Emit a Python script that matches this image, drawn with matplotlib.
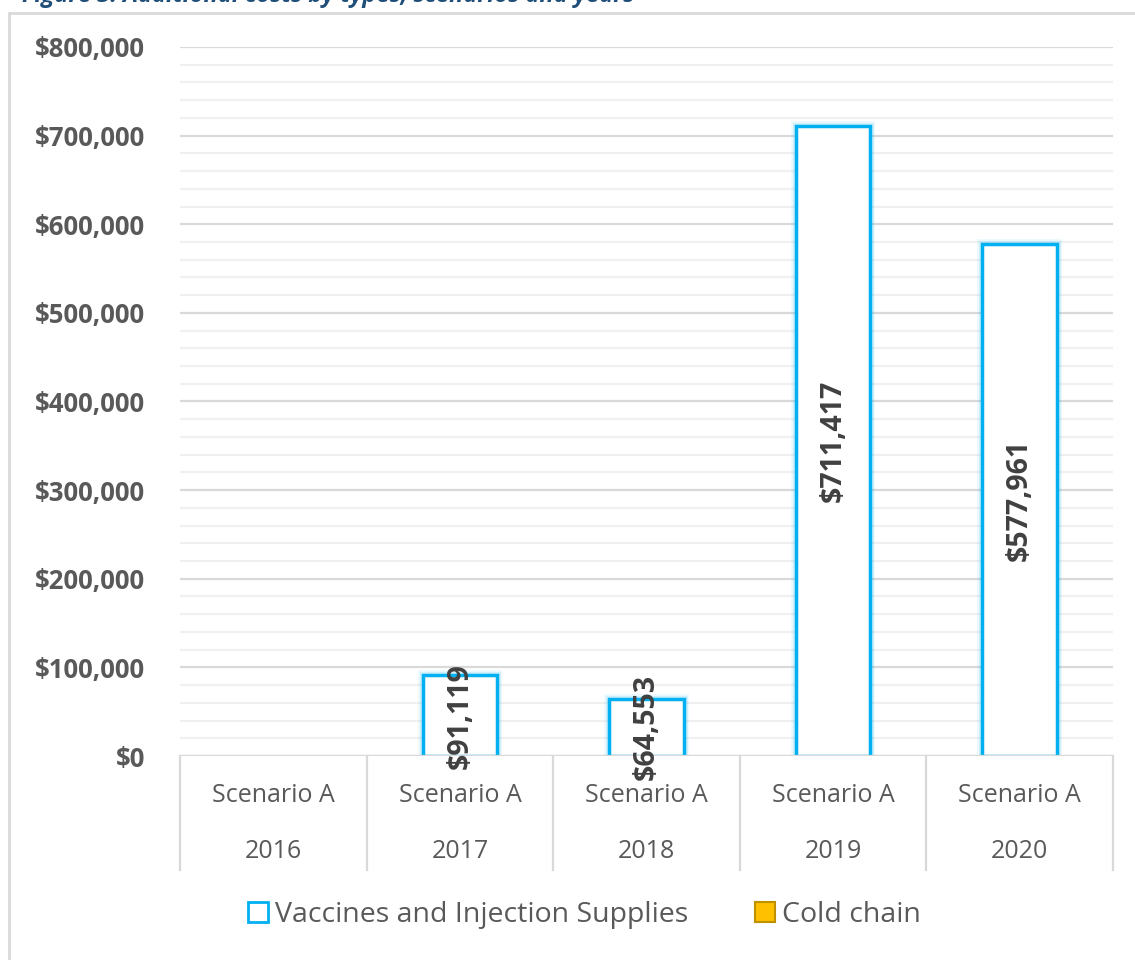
import matplotlib.pyplot as plt
from matplotlib.patches import Rectangle
from matplotlib.lines import Line2D
from matplotlib.ticker import MultipleLocator, FuncFormatter

# data
years = ["2016", "2017", "2018", "2019", "2020"]
scenarios = ["Scenario A"] * 5
vaccines = [0, 91119, 64553, 711417, 577961]
cold_chain = [0, 0, 0, 0, 0]

CYAN = "#00B0F0"
GOLD = "#FFC000"
TXT = "#595959"

plt.rcParams['font.family'] = ['Open Sans', 'DejaVu Sans']

fig = plt.figure(figsize=(11.35, 9.6), dpi=100)
W, H = 1135, 960

# outer chart frame (only left/top edges visible in the crop)
fig.patches.append(Rectangle((9 / W, -0.1), 1.2, 1 - 13 / H + 0.1,
                             transform=fig.transFigure, fill=False,
                             edgecolor="#D9D9D9", lw=2))
# caption, cut off at the top of the image like in the source
fig.text(22 / W, 1 - 2 / H, "Figure 3: Additional costs by types, scenarios and years",
         color="#1F4E79", fontsize=17, fontweight="bold", style="italic",
         va="baseline", ha="left")

ax = fig.add_axes([180 / W, 1 - 756 / H, (1113 - 180) / W, (756 - 47) / H])
ax.set_ylim(0, 800000)
ax.set_xlim(-0.5, len(years) - 0.5)

ax.yaxis.set_major_locator(MultipleLocator(100000))
ax.yaxis.set_minor_locator(MultipleLocator(20000))
ax.yaxis.set_major_formatter(FuncFormatter(lambda v, p: f"${v:,.0f}"))
ax.grid(axis="y", which="major", color="#D9D9D9", lw=1.6)
ax.grid(axis="y", which="minor", color="#F0F0F0", lw=1.6)
ax.set_axisbelow(True)
for s in ax.spines.values():
    s.set_visible(False)
ax.tick_params(axis="y", which="both", length=0, pad=25, labelsize=18.5, labelcolor=TXT)
for t in ax.get_yticklabels():
    t.set_fontweight("bold")
ax.set_xticks([])

x = list(range(len(years)))
bw = 0.40
# Excel draws nothing for zero values
bx = [xi for xi, v in zip(x, vaccines) if v > 0]
bv = [v for v in vaccines if v > 0]
# soft glow behind the bars
for lw_g, a in [(7, 0.08), (5, 0.12)]:
    ax.bar(bx, bv, width=bw, facecolor="none", edgecolor=CYAN, lw=lw_g, alpha=a)
ax.bar(bx, bv, width=bw, facecolor="white", edgecolor=CYAN, lw=2.5)

for xi, v in zip(bx, bv):
    ax.text(xi, v / 2, f"${v:,}", rotation=90, ha="center", va="center",
            fontsize=20.5, fontweight="bold", color="#404040")

# category axis with two-level labels
depth = (870 - 756) / (756 - 47)
ax.axhline(0, color="#D9D9D9", lw=1.6)
for b in [i - 0.5 for i in range(len(years) + 1)]:
    ax.plot([b, b], [0, -depth], transform=ax.get_xaxis_transform(),
            color="#D9D9D9", lw=1.6, clip_on=False)
for xi, sc, yr in zip(x, scenarios, years):
    ax.text(xi, -(796 - 756) / (756 - 47), sc, transform=ax.get_xaxis_transform(),
            ha="center", va="center", fontsize=18, color=TXT)
    ax.text(xi, -(851 - 756) / (756 - 47), yr, transform=ax.get_xaxis_transform(),
            ha="center", va="center", fontsize=18, color=TXT)

handles = [
    Line2D([], [], marker="s", ls="none", markersize=14, markerfacecolor="white",
           markeredgecolor=CYAN, markeredgewidth=2),
    Line2D([], [], marker="s", ls="none", markersize=14, markerfacecolor=GOLD,
           markeredgecolor="#BF9000", markeredgewidth=1.5),
]
fig.legend(handles, ["Vaccines and Injection Supplies", "Cold chain"],
           loc="center", bbox_to_anchor=(0.513, 1 - 915 / H), ncol=2, frameon=False,
           fontsize=20.5, labelcolor=TXT, handletextpad=0.1, columnspacing=2.2,
           handlelength=1.0)

fig.savefig("out.png", dpi=100)
